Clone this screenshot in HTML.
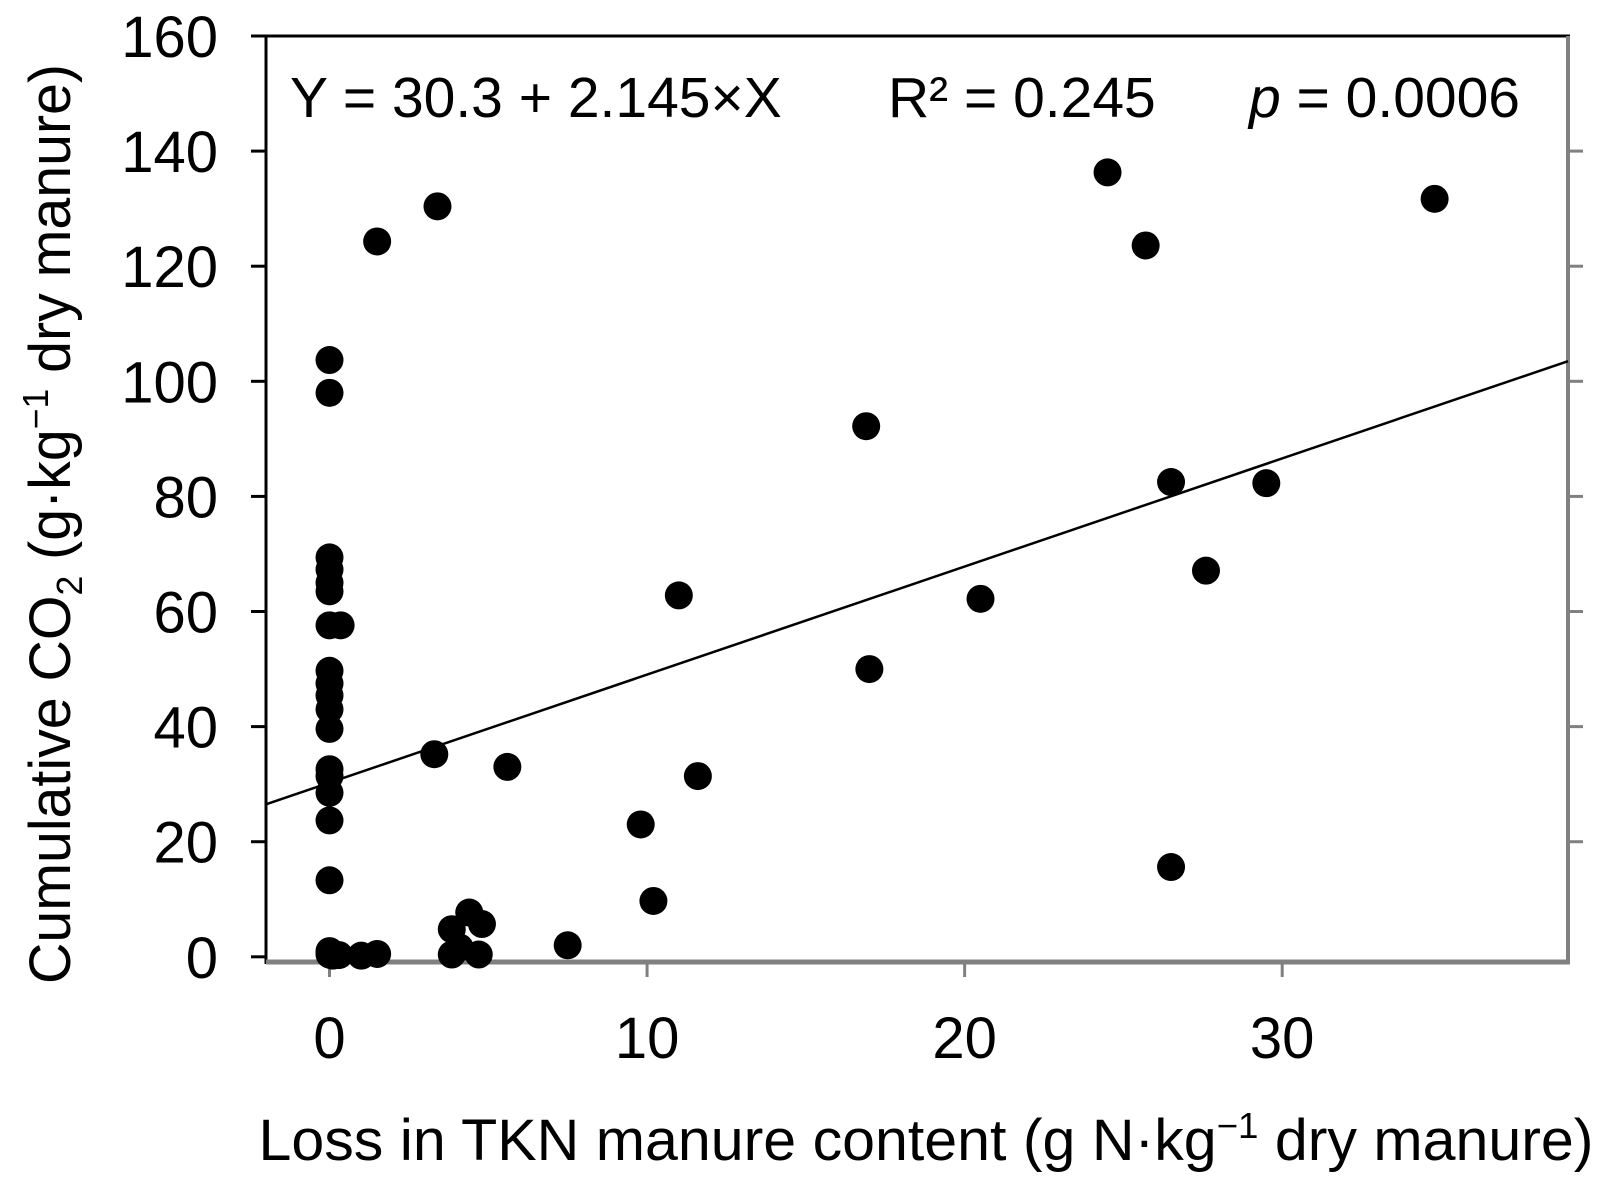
<!DOCTYPE html>
<html><head><meta charset="utf-8"><style>
html,body{margin:0;padding:0;background:#fff;}
svg{display:block;font-family:"Liberation Sans",Arial,sans-serif;}
</style></head><body>
<svg id="chart" width="1620" height="1192" viewBox="0 0 1620 1192">
<g id="axes"></g>
<g id="marks"></g>
<text x="290" y="117" font-size="57">Y = 30.3 + 2.145×X</text>
<text x="888" y="117" font-size="57">R² = 0.245</text>
<text x="1249" y="117" font-size="57"><tspan font-style="italic">p</tspan> = 0.0006</text>
<text x="926" y="1160" font-size="58" text-anchor="middle" textLength="1335" lengthAdjust="spacingAndGlyphs">Loss in TKN manure content (g N·kg<tspan dy="-22" font-size="36">−1</tspan><tspan dy="22"> dry manure)</tspan></text>
<text transform="translate(70,524) rotate(-90)" x="0" y="0" font-size="58" text-anchor="middle" textLength="920" lengthAdjust="spacingAndGlyphs">Cumulative CO<tspan dy="12" font-size="36">2</tspan><tspan dy="-12"> (g·kg</tspan><tspan dy="-22" font-size="36">−1</tspan><tspan dy="22"> dry manure)</tspan></text>
</svg>
<script>
const xTicks = [0, 10, 20, 30];
const yTicks = [0, 20, 40, 60, 80, 100, 120, 140, 160];
const xVals = [0,0,0,0,0,0,0,0.35,0,0,0,0,0,0,0,0,0,0,0,0,0.1,0.3,1.0,1.5,1.5,3.4,3.3,5.6,3.85,4.1,3.85,4.4,4.8,4.7,7.5,9.8,10.2,11.0,11.6,16.9,17.0,20.5,24.5,25.7,26.5,26.5,27.6,29.5,34.8];
const yVals = [103.7,98,69.4,67.3,65,63.5,57.6,57.6,49.7,47.5,45.4,43,39.6,32.6,31.4,28.5,23.7,13.3,1,0.4,0.2,0.3,0.2,0.5,124.3,130.4,35.2,33,0.4,1.6,4.8,7.7,5.7,0.4,2,23,9.7,62.8,31.4,92.2,50,62.2,136.3,123.6,82.5,15.6,67.1,82.3,131.7];
const fitX = [-2, 39];
const fitY = [26.5, 103.5];

const X0=266, X1=1568, Y0=962, Y1=36;
const xMin=-2, xMax=39, yMin=-0.9, yMax=160;
const sx = v => X0 + (v - xMin) / (xMax - xMin) * (X1 - X0);
const sy = v => Y0 - (v - yMin) / (yMax - yMin) * (Y0 - Y1);
const NS = "http://www.w3.org/2000/svg";
const axes = document.getElementById('axes');
const marks = document.getElementById('marks');
function mk(tag, attrs, parent){const e=document.createElementNS(NS,tag);for(const k in attrs)e.setAttribute(k,attrs[k]);parent.appendChild(e);return e;}

let e;
e = mk('line',{x1:X0,y1:Y1,x2:X1+2,y2:Y1,stroke:'#000','stroke-width':3},axes);


e = mk('line',{x1:X0,y1:Y1,x2:X0,y2:Y0+2,stroke:'#000','stroke-width':3},axes);


e = mk('line',{x1:X1,y1:Y1,x2:X1,y2:Y0+2,stroke:'#808080','stroke-width':4},axes);


e = mk('line',{x1:X0,y1:Y0,x2:X1+2,y2:Y0,stroke:'#808080','stroke-width':5},axes);



yTicks.forEach(t=>{
  const y=sy(t);
  let a=mk('line',{x1:X0-15,y1:y,x2:X0,y2:y,stroke:'#000','stroke-width':3},axes);
  
  
  if(t>0 && t<160){
    let b=mk('line',{x1:X1,y1:y,x2:X1+15,y2:y,stroke:'#808080','stroke-width':3},axes);
    
    
  }
  let l=mk('text',{x:218,y:y+21,'font-size':58,'text-anchor':'end'},axes);
  l.textContent=t;
  
  
});
xTicks.forEach(t=>{
  const x=sx(t);
  let a=mk('line',{x1:x,y1:Y0,x2:x,y2:Y0+15,stroke:'#808080','stroke-width':3},axes);
  
  
  let l=mk('text',{x:x,y:1058,'font-size':58,'text-anchor':'middle'},axes);
  l.textContent=t;
  
  
});

e = mk('line',{x1:sx(fitX[0]),y1:sy(fitY[0]),x2:sx(fitX[1]),y2:sy(fitY[1]),stroke:'#000','stroke-width':2.5},marks);



xVals.forEach((xv,i)=>{
  const c=mk('circle',{cx:sx(xv),cy:sy(yVals[i]),r:14,fill:'#000'},marks);
  
  
});
</script>
</body></html>
